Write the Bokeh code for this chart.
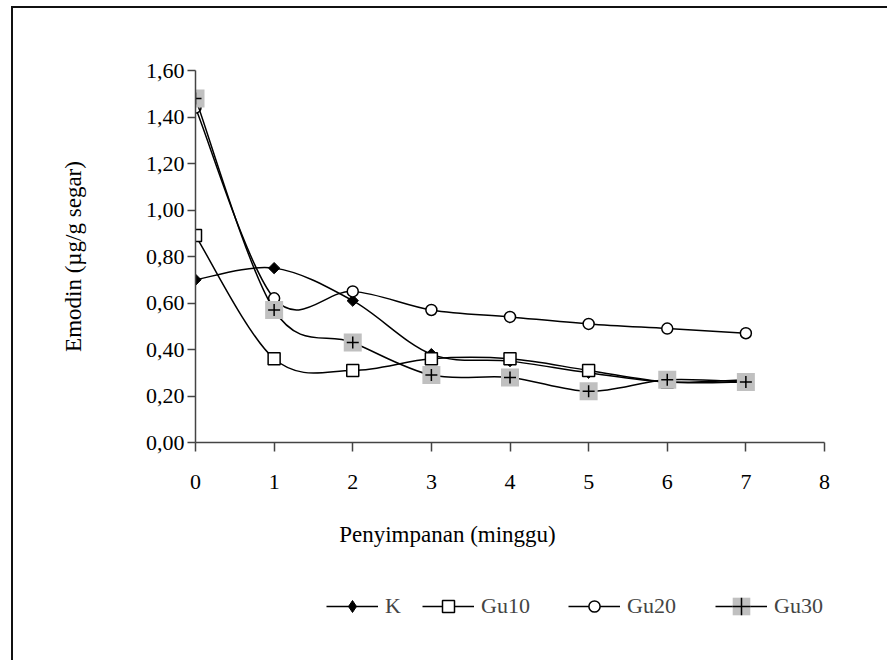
import math
from bokeh.plotting import figure
from bokeh.layouts import column
from bokeh.models import (Range1d, FixedTicker, CustomJSTickFormatter, Legend,
                          LegendItem, Label, ColumnDataSource)
from bokeh.embed import file_html
from bokeh.resources import INLINE

# ---- data ----
weeks = [0, 1, 2, 3, 4, 5, 6, 7]
K = [0.70, 0.75, 0.61, 0.38, 0.35, 0.30, 0.26, 0.27]
Gu10 = [0.89, 0.36, 0.31, 0.36, 0.36, 0.31, 0.26, 0.26]
Gu20 = [1.44, 0.62, 0.65, 0.57, 0.54, 0.51, 0.49, 0.47]
Gu30 = [1.48, 0.57, 0.43, 0.29, 0.28, 0.22, 0.27, 0.26]
series_names = ["K", "Gu10", "Gu20", "Gu30"]
x_ticks = [0, 1, 2, 3, 4, 5, 6, 7, 8]
y_ticks = [0.0, 0.2, 0.4, 0.6, 0.8, 1.0, 1.2, 1.4, 1.6]
x_title = "Penyimpanan (minggu)"
y_title = "Emodin (µg/g segar)"

FONT = "Liberation Serif"
FS = "22px"
FS_TITLE = "23px"
W = 874

p = figure(width=W, height=500, x_range=Range1d(0, 8), y_range=Range1d(0, 1.6),
           output_backend="svg", toolbar_location=None,
           min_border_left=182, min_border_right=63, min_border_top=62,
           min_border_bottom=66)
p.frame_align = False
p.grid.visible = False
p.outline_line_color = None

for ax in (p.xaxis[0], p.yaxis[0]):
    ax.axis_line_color = "#444444"
    ax.axis_line_width = 1.5
    ax.major_tick_line_color = "#444444"
    ax.major_tick_line_width = 1.5
    ax.major_tick_in = 0
    ax.minor_tick_line_color = None
    ax.major_label_text_font = FONT
    ax.major_label_text_font_size = FS
    ax.major_label_text_color = "black"
    ax.axis_label_text_font = FONT
    ax.axis_label_text_font_size = FS_TITLE
    ax.axis_label_text_font_style = "normal"
    ax.axis_label_text_color = "black"

p.xaxis.ticker = FixedTicker(ticks=x_ticks)
p.xaxis.major_tick_out = 9
p.xaxis.major_label_standoff = 23
p.yaxis.ticker = FixedTicker(ticks=y_ticks)
p.yaxis.major_tick_out = 8
p.yaxis.major_label_standoff = 3
p.yaxis.formatter = CustomJSTickFormatter(code="return tick.toFixed(2).replace('.', ',');")
p.yaxis.axis_label = y_title
p.yaxis.axis_label_standoff = 57


def smooth(xs, ys):
    n = len(xs)
    d = dict(x0=[], y0=[], x1=[], y1=[], cx0=[], cy0=[], cx1=[], cy1=[])
    for i in range(n - 1):
        a = i - 1 if i > 0 else i
        b = i + 2 if i + 2 < n else i + 1
        d["x0"].append(xs[i]); d["y0"].append(ys[i])
        d["x1"].append(xs[i + 1]); d["y1"].append(ys[i + 1])
        d["cx0"].append(xs[i] + (xs[i + 1] - xs[a]) / 6)
        d["cy0"].append(ys[i] + (ys[i + 1] - ys[a]) / 6)
        d["cx1"].append(xs[i + 1] - (xs[b] - xs[i]) / 6)
        d["cy1"].append(ys[i + 1] - (ys[b] - ys[i]) / 6)
    return d


STYLES = {
    "K": [dict(marker="square", angle=math.pi / 4, size=8, fill_color="black",
               line_color="black", line_width=1)],
    "Gu10": [dict(marker="square", size=12, fill_color="white", line_color="black",
                  line_width=1.5)],
    "Gu20": [dict(marker="circle", size=11, fill_color="white", line_color="black",
                  line_width=1.5)],
    "Gu30": [dict(marker="square", size=18, fill_color="#c0c0c0", line_color=None),
             dict(marker="cross", size=12, line_color="black", line_width=1.5)],
}
# legend keys (legend markers are drawn unrotated, so K uses a diamond there)
LEG_STYLES = dict(STYLES)
LEG_STYLES["K"] = [dict(marker="diamond", size=8, fill_color="black",
                        line_color="black", line_width=1)]
LEG_GH = {"K": 30, "Gu10": 30, "Gu20": 28, "Gu30": 44}
SERIES = dict(zip(series_names, [K, Gu10, Gu20, Gu30]))

for name in series_names:
    ys = SERIES[name]
    p.bezier(source=ColumnDataSource(smooth(weeks, ys)), x0="x0", y0="y0", x1="x1",
             y1="y1", cx0="cx0", cy0="cy0", cx1="cx1", cy1="cy1",
             line_color="black", line_width=1.5)
    for st in STYLES[name]:
        p.scatter(weeks, ys, **st)

# ---- lower panel: x title and legend (its ranges keep the proxy glyphs out of view) ----
H2 = 152
q = figure(width=W, height=H2, x_range=Range1d(100, 101), y_range=Range1d(100, 101),
           output_backend="svg", toolbar_location=None,
           min_border=0, min_border_left=0, min_border_right=0,
           min_border_top=0, min_border_bottom=0)
q.frame_align = False
q.axis.visible = False
q.grid.visible = False
q.outline_line_color = None

q.add_layout(Label(x=434, y=126, x_units="screen", y_units="screen", text=x_title,
                   text_align="center", text_baseline="middle", text_font=FONT,
                   text_font_size=FS_TITLE, text_color="black"))

leg_x = [313, 409, 555, 702]
for name, lx in zip(series_names, leg_x):
    ys = SERIES[name]
    rs = [q.line(weeks, ys, line_color="black", line_width=1.5)]
    for st in LEG_STYLES[name]:
        rs.append(q.scatter(weeks, ys, **st))
    gh = LEG_GH[name]
    leg = Legend(items=[LegendItem(label=name, renderers=rs)],
                 location=(lx, 54 - gh / 2),
                 orientation="horizontal", glyph_width=52, glyph_height=gh,
                 label_standoff=7, padding=0, margin=0, spacing=0,
                 border_line_color=None, background_fill_alpha=0,
                 label_text_font=FONT, label_text_font_size=FS, label_height=gh)
    q.add_layout(leg)

layout = column(p, q, spacing=0)
layout.margin = (6, 0, 0, 11)
layout.styles = {"border-left": "2px solid #111", "border-top": "2px solid #111"}

open("out.html", "w").write(file_html(layout, INLINE))
